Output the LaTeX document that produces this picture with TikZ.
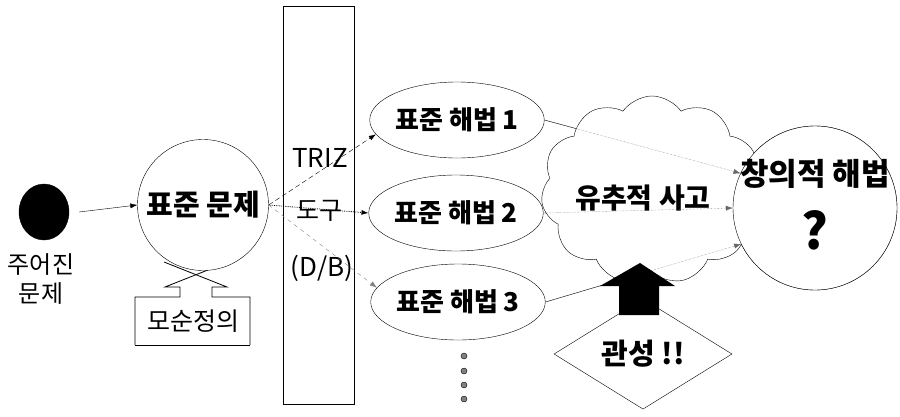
\documentclass[tikz,border=0pt]{standalone}
\usepackage{fontspec}
\setmainfont{Noto Sans CJK KR}
\usetikzlibrary{shapes.geometric,shapes.symbols,arrows.meta}
\begin{document}
\begin{tikzpicture}[x=1pt,y=-1pt,
  tip/.style={-{Latex[length=7pt,width=5pt]}},
  ell/.style={draw, ellipse, minimum width=157pt, minimum height=76pt, inner sep=0pt, fill=white,
    font=\fontsize{26}{28}\selectfont\bfseries},
  lbl/.style={font=\fontsize{24}{26}\selectfont, inner sep=0pt},
  blbl/.style={font=\fontsize{28}{30}\selectfont\bfseries, inner sep=0pt},
  dotdot/.style={draw, thin, fill=gray, circle, minimum size=6pt, inner sep=0pt}]
\useasboundingbox (0,0) rectangle (900,416);

% given problem
\node[draw, fill=black, ellipse, minimum width=50pt, minimum height=56pt, inner sep=0pt] (g) at (44,212) {};
\node[lbl, align=center, font=\fontsize{24}{29}\selectfont] (gl) at (41,279) {주어진\\문제};

% contradiction definition box with up-arrow notch
\draw[thick] (135,345) -- (135,297) -- (180,297) -- (180,287) -- (165,287) -- (228,262);
\draw[thick] (250,345) -- (250,297) -- (212,297) -- (212,287) -- (227,287) -- (164,262);
\draw[thick] (135,345) -- (250,345);
\node[lbl, font=\fontsize{25}{27}\selectfont] (m) at (193,321) {모순정의};

% standard problem
\node[draw, circle, minimum size=131pt, inner sep=0pt, fill=white, font=\fontsize{29}{31}\selectfont\bfseries] (p) at (203,205) {표준 문제};
\draw[tip] (g.east) ++(10,0) coordinate (gs) (gs) -- (p.west);

% tall bar
\node[draw, minimum width=71pt, minimum height=398pt, inner sep=0pt] (bar) at (318.5,205) {};
\node[lbl, font=\fontsize{26}{28}\selectfont] (triz) at (320,158) {TRIZ};
\node[lbl, font=\fontsize{25}{27}\selectfont] (tool) at (319,211) {도구};
\node[lbl, font=\fontsize{26}{28}\selectfont] (db) at (322,268) {(D/B)};

% standard solutions
\node[ell] (e1) at (457,120) {표준 해법 1};
\node[ell] (e2) at (456,213) {표준 해법 2};
\node[ell] (e3) at (458,302) {표준 해법 3};

\draw[tip, dash pattern=on 5pt off 3pt] (p.east) -- (e1.190);
\draw[tip, densely dotted, thick] (p.east) -- (e2.west);
\draw[tip, dash pattern=on 4pt off 4pt, gray] (p.east) -- (e3.170);

% more dots
\foreach \yy [count=\i] in {356,371,385,399} \node[dotdot] (d\i) at (464,\yy) {};

% creative solution circle
\node[draw, circle, minimum size=164pt, inner sep=0pt] (c) at (815,208) {};

% solid parts of connectors
\draw (e1.east) -- (c.155);
\draw (e2.east) -- (c.180);
\draw (e3.east) -- (c.206);

% cloud
\node[draw, fill=white, cloud, cloud puffs=11, cloud puff arc=110, aspect=1.15,
  minimum width=222pt, minimum height=188pt, inner sep=0pt] (cl) at (652,190) {};
\node[blbl] (clt) at (643,198) {유추적 사고};

% creative circle over cloud
\node[draw, circle, fill=white, minimum size=164pt, inner sep=0pt] (c2) at (815,208) {};
\node[font=\fontsize{31}{33}\selectfont\bfseries, inner sep=0pt] (ct) at (815,174) {창의적 해법};
\node[font=\fontsize{50}{52}\selectfont\bfseries, inner sep=0pt] (q) at (815,230) {?};

% dotted parts with arrows
\draw[tip, densely dotted, gray!80!black] (e1.east) -- (c.155);
\draw[tip, densely dotted, gray!80!black] (e2.east) -- (c.180);
\draw[tip, densely dotted, gray!80!black] (e3.east) -- (c.206);

% inertia diamond and big arrow
\node[draw, diamond, minimum width=178pt, minimum height=88pt, inner sep=0pt, fill=white,
  font=\fontsize{29}{31}\selectfont\bfseries] (k) at (643,354) {관성 !!};
\fill (600,286) -- (640,263) -- (675,286) -- (659,286) -- (659,315) -- (619,315) -- (619,286) -- cycle;
\end{tikzpicture}
\end{document}
